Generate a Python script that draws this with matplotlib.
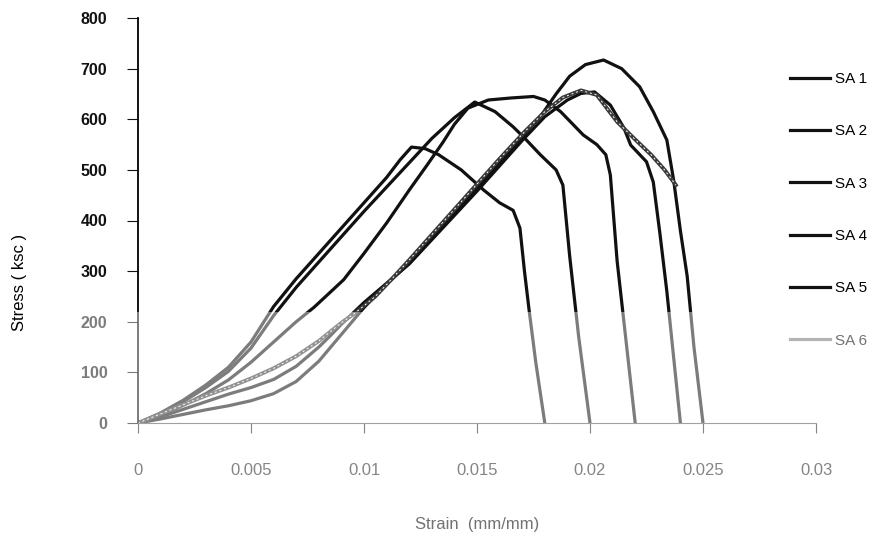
import matplotlib
matplotlib.use("Agg")
import matplotlib.pyplot as plt
from matplotlib.patches import Rectangle
from matplotlib.lines import Line2D

plt.rcParams['font.family'] = ['Liberation Sans', 'DejaVu Sans']

# stress-strain curves
sa1_strain = [0, 0.001, 0.002, 0.003, 0.004, 0.005, 0.006, 0.007, 0.008, 0.009, 0.010, 0.011,
              0.0116, 0.0121, 0.0127, 0.0133, 0.0143, 0.0153, 0.0160, 0.0166, 0.0169, 0.0171,
              0.0173, 0.0176, 0.0180]
sa1_stress = [0, 20, 45, 75, 110, 160, 230, 285, 335, 385, 435, 485,
              520, 545, 542, 530, 500, 460, 435, 420, 385, 300,
              225, 120, 0]

sa2_strain = [0, 0.001, 0.002, 0.003, 0.004, 0.005, 0.006, 0.007, 0.008, 0.009, 0.010, 0.011,
              0.012, 0.013, 0.014, 0.0149, 0.0158, 0.0166, 0.0171, 0.0178, 0.0185, 0.0188,
              0.0191, 0.0195, 0.0200]
sa2_stress = [0, 18, 42, 70, 102, 148, 212, 268, 318, 368, 418, 466,
              514, 562, 603, 634, 615, 585, 563, 530, 500, 470,
              330, 170, 0]

sa3_strain = [0, 0.001, 0.002, 0.003, 0.004, 0.005, 0.006, 0.007, 0.0078, 0.0091, 0.010, 0.011,
              0.012, 0.0128, 0.0135, 0.014, 0.0146, 0.0155, 0.0165, 0.0175, 0.018, 0.0187,
              0.0197, 0.0203, 0.0207, 0.0209, 0.0212, 0.0216, 0.0220]
sa3_stress = [0, 15, 35, 58, 85, 120, 160, 200, 229, 283, 335, 395,
              460, 510, 555, 590, 622, 638, 642, 645, 638, 615,
              569, 550, 530, 490, 320, 160, 0]

sa4_strain = [0, 0.001, 0.002, 0.003, 0.004, 0.005, 0.006, 0.007, 0.008, 0.0085, 0.009, 0.010,
              0.011, 0.012, 0.013, 0.014, 0.015, 0.016, 0.017, 0.018, 0.019, 0.0196,
              0.0202, 0.0209, 0.0215, 0.0218, 0.0225, 0.0228, 0.0231, 0.0234, 0.0240]
sa4_stress = [0, 12, 27, 42, 57, 70, 86, 112, 150, 172, 195, 238,
              276, 314, 362, 410, 458, 508, 558, 605, 638, 651,
              654, 628, 583, 549, 516, 476, 372, 260, 0]

sa5_strain = [0, 0.001, 0.002, 0.003, 0.004, 0.005, 0.006, 0.007, 0.008, 0.009, 0.010, 0.011,
              0.012, 0.013, 0.014, 0.015, 0.016, 0.017, 0.0178, 0.0185, 0.0191, 0.0198,
              0.0206, 0.0214, 0.0222, 0.0228, 0.0234, 0.0237, 0.0240, 0.0243, 0.0246, 0.0250]
sa5_stress = [0, 8, 17, 26, 34, 44, 58, 82, 122, 175, 228, 274,
              316, 364, 414, 464, 514, 566, 605, 650, 685, 708,
              717, 700, 664, 615, 559, 480, 380, 290, 150, 0]

sa6_strain = [0, 0.001, 0.002, 0.003, 0.004, 0.005, 0.006, 0.007, 0.008, 0.009, 0.0096, 0.0105,
              0.0112, 0.012, 0.013, 0.014, 0.015, 0.016, 0.0171, 0.018, 0.0188, 0.0196,
              0.0203, 0.0212, 0.0220, 0.0227, 0.0233, 0.0238]
sa6_stress = [0, 18, 36, 54, 70, 88, 108, 132, 162, 198, 217, 250,
              283, 322, 372, 422, 472, 522, 575, 615, 643, 657,
              648, 595, 560, 530, 500, 470]

x_ticks = [0, 0.005, 0.01, 0.015, 0.02, 0.025, 0.03]
x_tick_labels = ['0', '0.005', '0.01', '0.015', '0.02', '0.025', '0.03']
y_ticks = [0, 100, 200, 300, 400, 500, 600, 700, 800]
labels = ['SA 1', 'SA 2', 'SA 3', 'SA 4', 'SA 5', 'SA 6']

W, H = 896, 546
fig = plt.figure(figsize=(W / 100, H / 100), dpi=100)
ax = fig.add_axes([138 / W, 1 - 423 / H, (816 - 138) / W, (423 - 18) / H])

dark = '#111111'
curves = [(sa1_strain, sa1_stress), (sa2_strain, sa2_stress), (sa3_strain, sa3_stress),
          (sa4_strain, sa4_stress), (sa5_strain, sa5_stress)]
for s, st in curves:
    ax.plot(s, st, color=dark, lw=2.3, solid_capstyle='round')
# SA 6 looks like a stippled double line
ax.plot(sa6_strain, sa6_stress, color='#3a3a3a', lw=2.8)
ax.plot(sa6_strain, sa6_stress, color='white', lw=0.7, ls=(0, (2, 3)))

ax.set_xlim(0, 0.03)
ax.set_ylim(0, 800)
ax.set_xticks(x_ticks)
ax.set_xticklabels(x_tick_labels, fontsize=12)
ax.set_yticks(y_ticks)
ax.set_yticklabels([str(v) for v in y_ticks], fontsize=11.5, fontweight='bold')
ax.tick_params(axis='x', direction='out', length=7, width=0.8, pad=22, colors='#222222')
ax.tick_params(axis='y', direction='out', length=8, width=0.8, pad=14, colors='#111111')
for side in ['top', 'right']:
    ax.spines[side].set_visible(False)
ax.spines['left'].set_linewidth(1.3)
ax.spines['bottom'].set_linewidth(0.8)
ax.spines['bottom'].set_color('#555555')

ax.set_xlabel('Strain  (mm/mm)', fontsize=12, labelpad=28)
ax.set_ylabel('Stress ( ksc )', fontsize=12)
ax.yaxis.set_label_coords((27 - 138) / (816 - 138), (423 - 282) / (423 - 18))

handles = [Line2D([], [], color=dark, lw=2.3) for _ in range(5)]
handles.append(Line2D([], [], color='#777777', lw=2.3))
fig.legend(handles, labels, loc='upper left', bbox_to_anchor=(790 / W, 1 - 72 / H),
           frameon=False, fontsize=11, handlelength=2.6, handletextpad=0.35,
           labelspacing=2.51, borderpad=0, borderaxespad=0)

# faded lower band of the scan
fig.add_artist(Rectangle((45 / W, 0), 1, (H - 312) / H, transform=fig.transFigure,
                         facecolor='white', edgecolor='none', alpha=0.45, zorder=10))

fig.savefig('out.png', dpi=100)
